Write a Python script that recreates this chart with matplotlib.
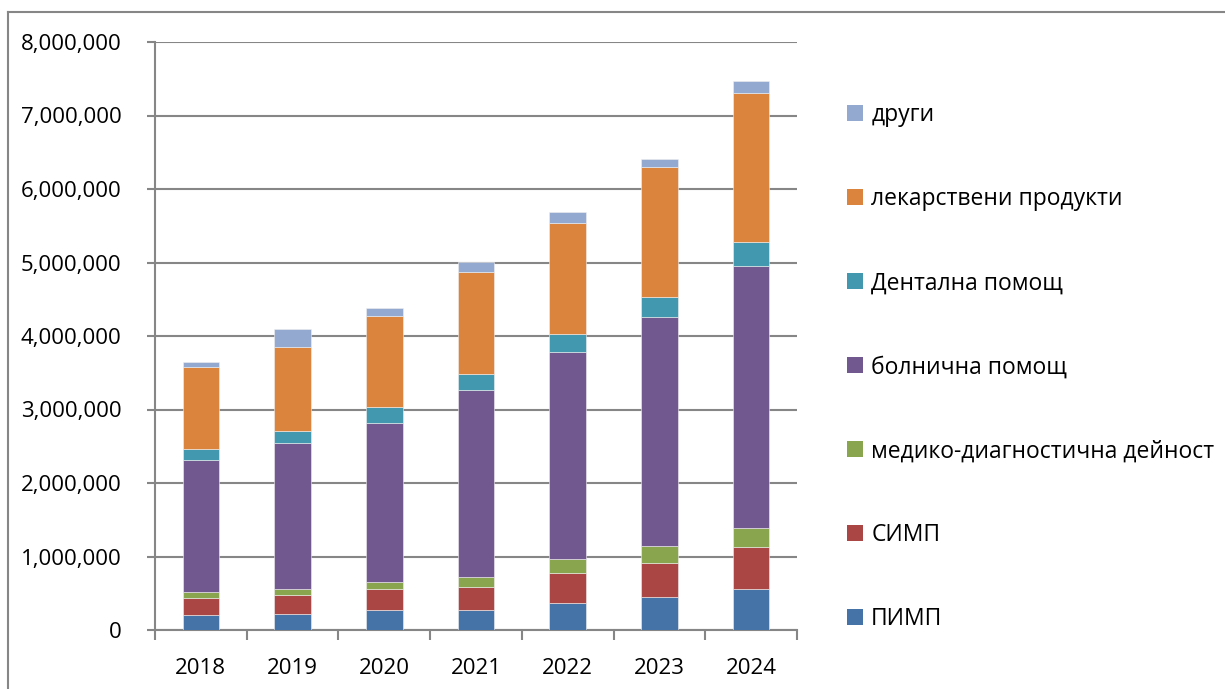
import numpy as np
import matplotlib
matplotlib.use('Agg')
import matplotlib.pyplot as plt
from matplotlib.patches import Patch
from matplotlib.ticker import FuncFormatter, FixedLocator

plt.rcParams['font.family'] = ['Open Sans', 'DejaVu Sans']

# Данни (прочетени от графиката)
years = ['2018', '2019', '2020', '2021', '2022', '2023', '2024']
pimp = [199000, 222000, 272000, 276000, 362000, 449000, 552000]
simp = [231000, 249000, 280000, 304000, 408000, 457000, 572000]
mdd = [87000, 91000, 105000, 136000, 196000, 241000, 264000]
bolnichna = [1796000, 1982000, 2163000, 2544000, 2811000, 3106000, 3564000]
dentalna = [144000, 168000, 209000, 218000, 245000, 272000, 327000]
lekarstva = [1121000, 1133000, 1238000, 1393000, 1515000, 1769000, 2027000]
drugi = [72000, 254000, 118000, 136000, 154000, 109000, 158000]

series = [
    ('ПИМП', pimp, '#4572A7'),
    ('СИМП', simp, '#AA4643'),
    ('медико-диагностична дейност', mdd, '#89A54E'),
    ('болнична помощ', bolnichna, '#71588F'),
    ('Дентална помощ', dentalna, '#4198AF'),
    ('лекарствени продукти', lekarstva, '#DB843D'),
    ('други', drugi, '#93A9CF'),
]

fig = plt.figure(figsize=(12.25, 6.89), dpi=100)
ax = fig.add_axes([155 / 1225, 1 - 630 / 689, 642 / 1225, 588 / 689])

x = np.arange(len(years))
bottom = np.zeros(len(years))
for name, vals, col in series:
    ax.bar(x, vals, width=0.4, bottom=bottom, color=col,
           edgecolor='#f0f0f0', linewidth=0.4, zorder=3)
    bottom += np.array(vals)

grid_c = '#868686'
ax.set_ylim(0, 8000000)
ax.set_xlim(-0.5, len(years) - 0.5)
ax.set_yticks(np.arange(0, 8000001, 1000000))
ax.yaxis.set_major_formatter(FuncFormatter(lambda v, p: f'{int(v):,}'))
ax.yaxis.grid(True, color=grid_c, linewidth=1.5, zorder=0)

ax.set_xticks(x)
ax.set_xticklabels(years)
ax.xaxis.set_minor_locator(FixedLocator(np.arange(-0.5, len(years), 1.0)))
ax.tick_params(axis='x', which='major', length=0, pad=20, labelsize=16)
ax.tick_params(axis='x', which='minor', length=7, width=1.5, color=grid_c)
ax.tick_params(axis='y', length=6, width=1.5, color=grid_c, labelsize=16, pad=18)

for s in ['top', 'right']:
    ax.spines[s].set_visible(False)
for s in ['left', 'bottom']:
    ax.spines[s].set_color(grid_c)
    ax.spines[s].set_linewidth(1.5)

handles = [Patch(facecolor=c, label=n) for n, v, c in series][::-1]
fig.legend(handles=handles, loc='upper left', bbox_to_anchor=(838 / 1225, 1 - 94 / 689),
           frameon=False, fontsize=16.5, handlelength=0.7, handleheight=0.7,
           handletextpad=0.35, labelspacing=2.62, borderaxespad=0)

# рамка на диаграмата
fig.add_artist(plt.Line2D([8 / 1225, 1], [1 - 12 / 689, 1 - 12 / 689],
                          color=grid_c, linewidth=1.5, transform=fig.transFigure))
fig.add_artist(plt.Line2D([8 / 1225, 8 / 1225], [0, 1 - 12 / 689],
                          color=grid_c, linewidth=1.5, transform=fig.transFigure))

fig.savefig('out.png', dpi=100)
